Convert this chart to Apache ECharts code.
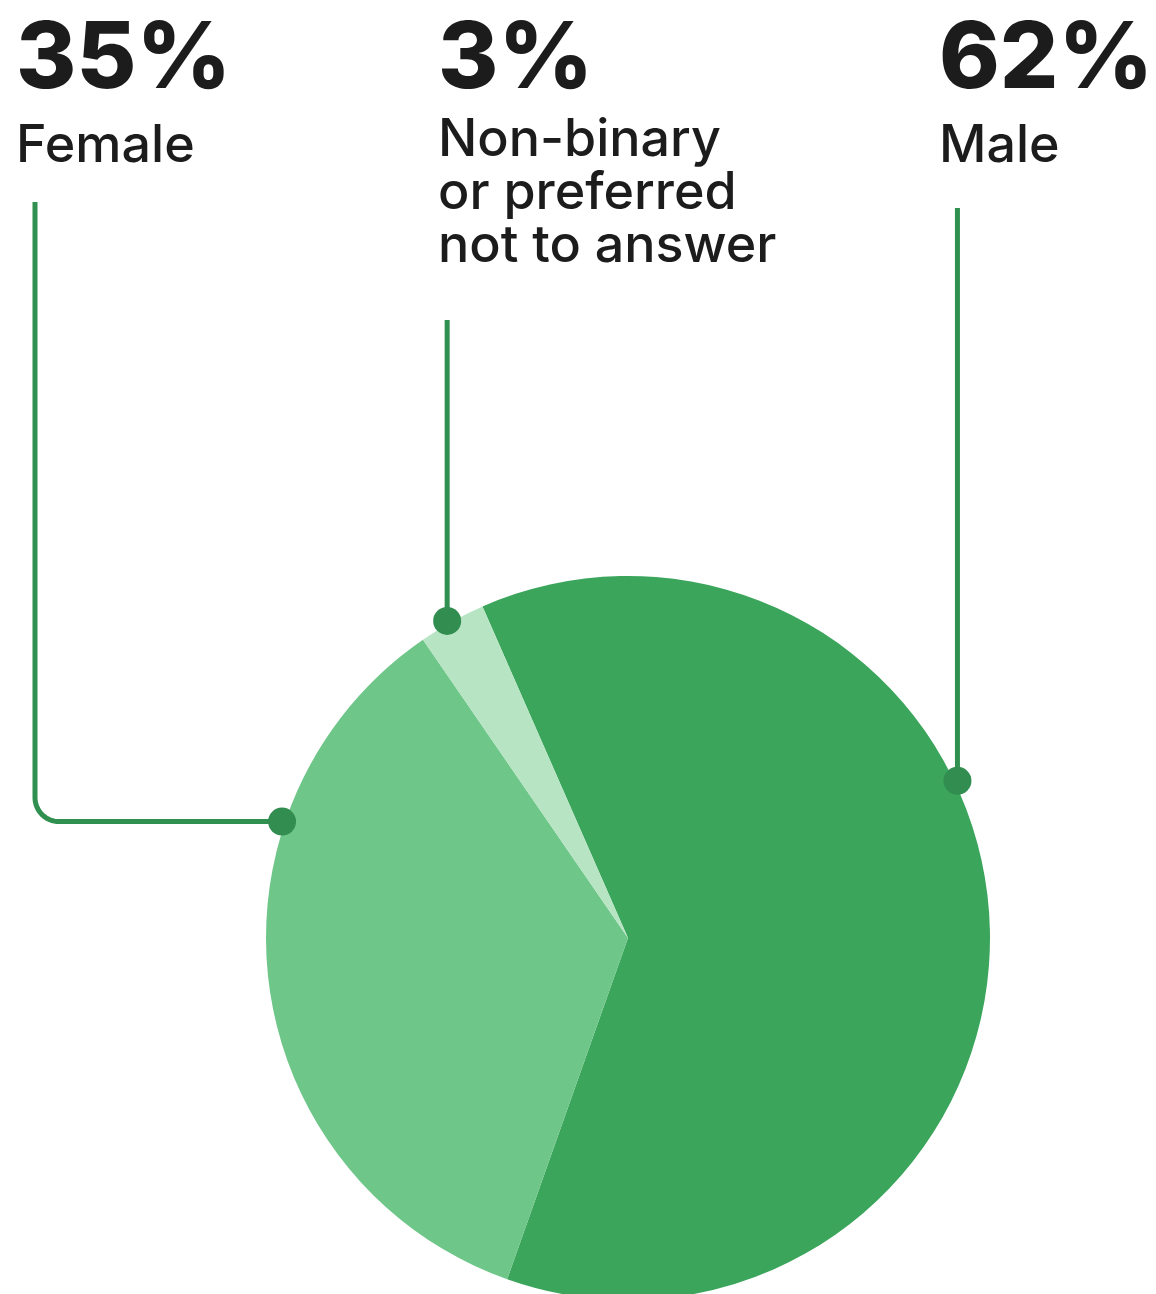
<!DOCTYPE html>
<html>
<head>
<meta charset="utf-8">
<script src="https://cdn.jsdelivr.net/npm/echarts@6/dist/echarts.min.js"></script>
<style>
html,body{margin:0;padding:0;background:#fff;}
#chart{width:1156px;height:1294px;}
</style>
</head>
<body>
<div id="chart"></div>
<script>
// ---- data ----
const categories = ['Male', 'Female', 'Non-binary\nor preferred\nnot to answer'];
const values = [62, 35, 3];
const sliceColors = ['#3ba55c', '#6ec689', '#b7e5c4'];

// ---- layout ----
const CX = 628, CY = 938, R = 362;
const START = 113.7;
const lineColor = '#30904f';
const dotColor = '#318d50';
const textColor = '#1c1c1c';
const FONT = 'Inter, "Noto Sans", sans-serif';

// annotation anchors: angle clockwise from top, label position
const annotations = [
  { idx: 1, angle: 288.6, tx: 15, lineTop: 202, lineX: 35 },   // Female
  { idx: 2, angle: 330.3, tx: 437, lineTop: 320, lineX: null }, // Non-binary
  { idx: 0, angle: 64.5, tx: 938, lineTop: 208, lineX: null }   // Male
];

const chart = echarts.init(document.getElementById('chart'), null, { renderer: 'canvas' });

function anchor(a) {
  const t = a * Math.PI / 180;
  const rr = R + 3;
  return [CX + rr * Math.sin(t), CY - rr * Math.cos(t)];
}

const total = values.reduce((s, v) => s + v, 0);
const graphics = [];
annotations.forEach(a => {
  const p = anchor(a.angle);
  const pct = Math.round(values[a.idx] / total * 100) + '%';
  graphics.push({
    type: 'text', x: a.tx + 1, y: 14, z: 10,
    style: { text: pct, font: '800 92px ' + FONT, fill: textColor, verticalAlign: 'top', lineHeight: 92 }
  });
  graphics.push({
    type: 'text', x: a.tx + 1, y: a.idx === 2 ? 113.9 : 120.7, z: 10,
    style: { text: categories[a.idx], font: '520 52px ' + FONT, fill: textColor, verticalAlign: 'top', lineHeight: a.idx === 2 ? 53 : 52 }
  });
  let pts;
  if (a.lineX !== null) {
    const rc = 24;
    pts = [[a.lineX, a.lineTop], [a.lineX, p[1] - rc]];
    const ccx = a.lineX + rc, ccy = p[1] - rc;
    for (let k = 1; k < 16; k++) {
      const th = Math.PI - (Math.PI / 2) * k / 16;
      pts.push([ccx + rc * Math.cos(th), ccy + rc * Math.sin(th)]);
    }
    pts.push([a.lineX + rc, p[1]], [p[0], p[1]]);
  } else {
    pts = [[p[0], a.lineTop], [p[0], p[1]]];
  }
  graphics.push({
    type: 'polyline', z: 10,
    shape: { points: pts },
    style: { stroke: lineColor, lineWidth: 5, fill: null, lineJoin: 'round' }
  });
  graphics.push({
    type: 'circle', z: 11,
    shape: { cx: p[0], cy: p[1], r: 14 },
    style: { fill: dotColor }
  });
});

chart.setOption({
  backgroundColor: '#ffffff',
  animation: false,
  series: [{
    type: 'pie',
    center: [CX, CY],
    radius: [0, R],
    startAngle: START,
    clockwise: true,
    label: { show: false },
    labelLine: { show: false },
    itemStyle: { borderWidth: 0 },
    emphasis: { disabled: true },
    data: categories.map((c, i) => ({ name: c, value: values[i], itemStyle: { color: sliceColors[i] } }))
  }],
  graphic: graphics
});
</script>
</body>
</html>
